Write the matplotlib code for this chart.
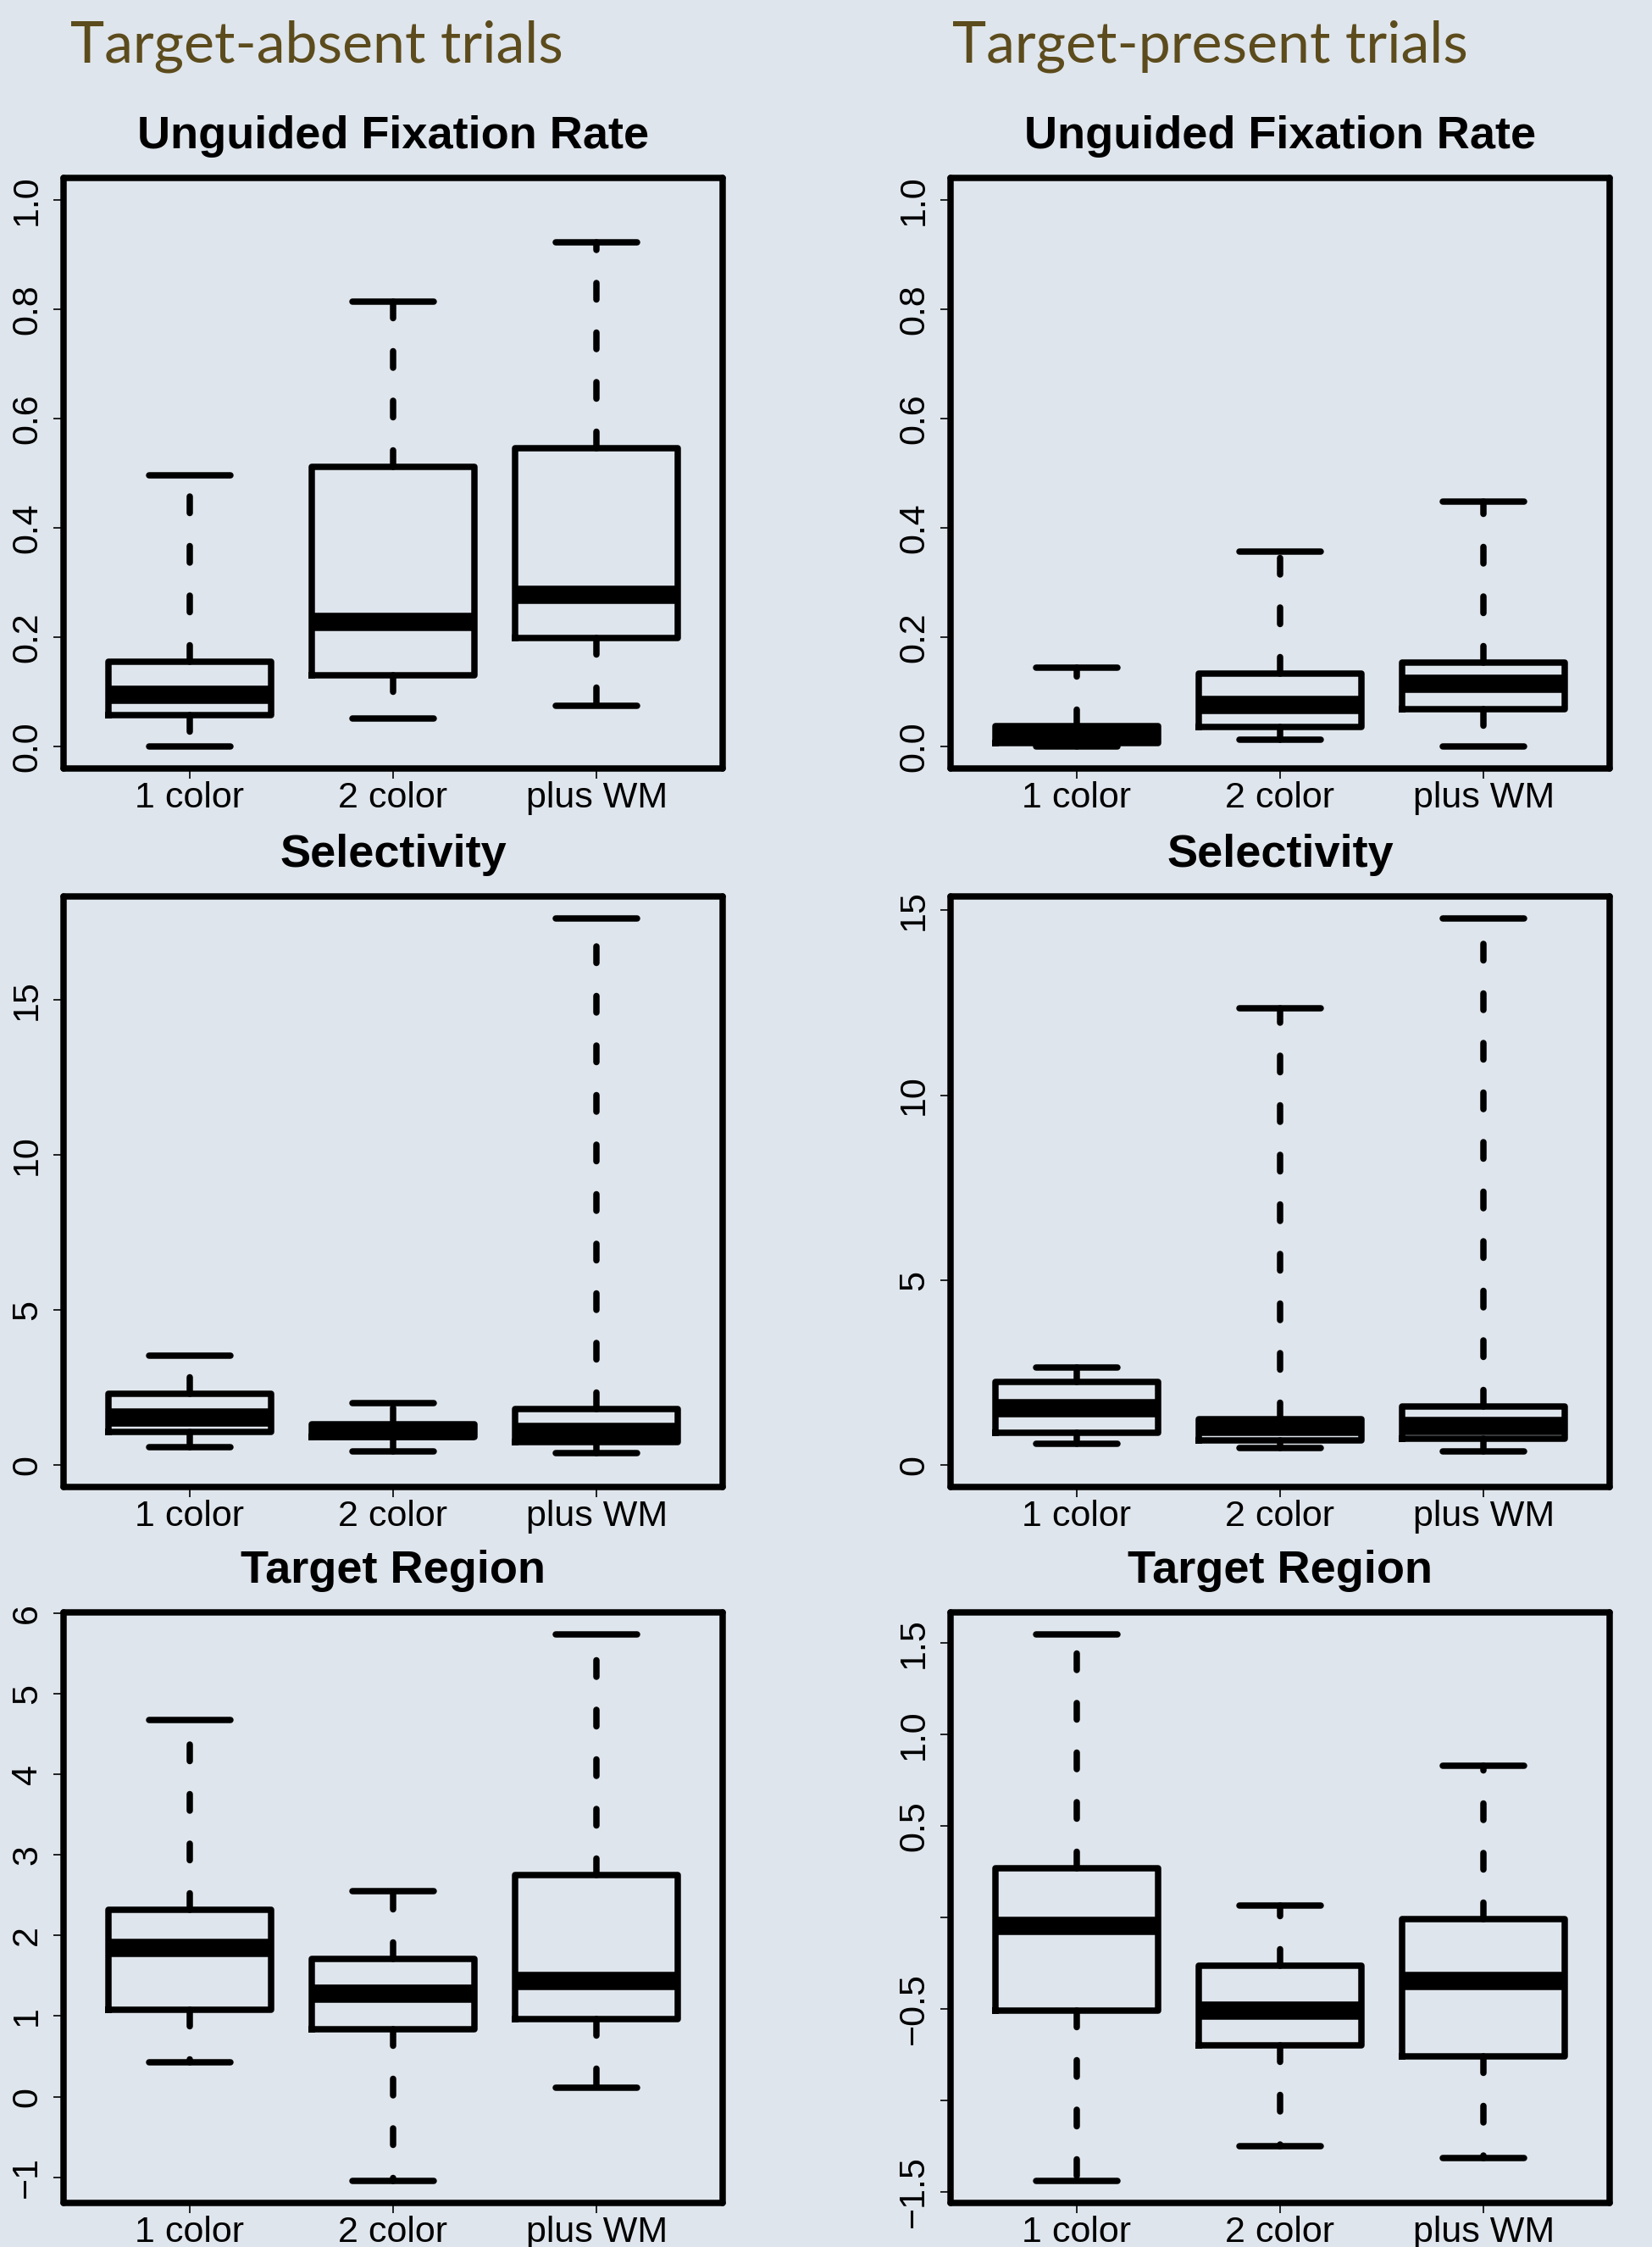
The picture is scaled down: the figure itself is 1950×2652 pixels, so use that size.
import matplotlib
matplotlib.use("Agg")
import matplotlib.pyplot as plt
from matplotlib.ticker import FixedLocator, FixedFormatter

# ---------------------------------------------------------------------------
# Data: per condition [lower whisker, Q1, median, Q3, upper whisker]
# ---------------------------------------------------------------------------
categories = ["1 color", "2 color", "plus WM"]

absent_fixation_rate = [
    [0.000, 0.057, 0.095, 0.155, 0.496],
    [0.051, 0.131, 0.228, 0.511, 0.813],
    [0.074, 0.198, 0.278, 0.546, 0.922],
]
present_fixation_rate = [
    [0.000, 0.006, 0.020, 0.037, 0.144],
    [0.012, 0.036, 0.076, 0.134, 0.356],
    [0.000, 0.069, 0.115, 0.153, 0.448],
]
absent_selectivity = [
    [0.57, 1.07, 1.53, 2.30, 3.52],
    [0.45, 0.91, 1.11, 1.32, 1.99],
    [0.39, 0.73, 1.08, 1.80, 17.64],
]
present_selectivity = [
    [0.57, 0.88, 1.55, 2.24, 2.63],
    [0.47, 0.67, 1.03, 1.24, 12.34],
    [0.36, 0.71, 1.06, 1.59, 14.78],
]
absent_target_region = [
    [0.426, 1.077, 1.846, 2.322, 4.672],
    [-1.046, 0.834, 1.283, 1.712, 2.554],
    [0.116, 0.968, 1.440, 2.745, 5.736],
]
present_target_region = [
    [-1.441, -0.510, -0.046, 0.271, 1.548],
    [-1.250, -0.697, -0.510, -0.264, 0.066],
    [-1.316, -0.758, -0.348, -0.009, 0.829],
]

rate_ticks = [0.0, 0.2, 0.4, 0.6, 0.8, 1.0]
rate_tick_labels = ["0.0", "0.2", "0.4", "0.6", "0.8", "1.0"]
selectivity_ticks = [0, 5, 10, 15]
selectivity_tick_labels = ["0", "5", "10", "15"]
absent_region_ticks = [-1, 0, 1, 2, 3, 4, 5, 6]
absent_region_tick_labels = ["\u22121", "0", "1", "2", "3", "4", "5", "6"]
present_region_ticks = [-1.5, -1.0, -0.5, 0.0, 0.5, 1.0, 1.5]
present_region_tick_labels = ["\u22121.5", "", "\u22120.5", "", "0.5", "1.0", "1.5"]

column_titles = ["Target-absent trials", "Target-present trials"]
row_titles = ["Unguided Fixation Rate", "Selectivity", "Target Region"]

# ---------------------------------------------------------------------------
# Styling
# ---------------------------------------------------------------------------
BG = "#dfe5ec"
HEAD = "#5c4b1c"
LW = 5.4           # box / frame line width (pt)
MED_LW = 15.5      # median bar width (pt)

plt.rcParams["font.family"] = ["Liberation Sans", "DejaVu Sans"]

W, H = 1950, 2652
fig = plt.figure(figsize=(W / 100, H / 100), dpi=100, facecolor=BG)

col_x = [75, 1122]
ax_w = 778
row_y = [210, 1058, 1903]
ax_h = 697

panels = [
    [(absent_fixation_rate, (0.0, 1.0), rate_ticks, rate_tick_labels),
     (present_fixation_rate, (0.0, 1.0), rate_ticks, rate_tick_labels)],
    [(absent_selectivity, (0.0, None), selectivity_ticks, selectivity_tick_labels),
     (present_selectivity, (0.0, None), selectivity_ticks, selectivity_tick_labels)],
    [(absent_target_region, (None, None), absent_region_ticks, absent_region_tick_labels),
     (present_target_region, (None, None), present_region_ticks, present_region_tick_labels)],
]


def draw_panel(ax, summary, span, ticks, tick_labels, title):
    stats = []
    for label, (lo, q1, med, q3, hi) in zip(categories, summary):
        stats.append(dict(label=label, whislo=lo, q1=q1, med=med, q3=q3,
                          whishi=hi, fliers=[]))
    ax.bxp(stats, positions=[1, 2, 3], widths=0.8, capwidths=0.4,
           showfliers=False,
           boxprops=dict(color="black", linewidth=LW,
                         solid_joinstyle="round"),
           whiskerprops=dict(color="black", linewidth=LW,
                             linestyle=(0, (2.6, 5.2)),
                             dash_capstyle="round"),
           capprops=dict(color="black", linewidth=LW,
                         solid_capstyle="round"),
           medianprops=dict(color="black", linewidth=MED_LW,
                            solid_capstyle="butt"))

    # y range padded by 4% on each side
    lows = [row[0] for row in summary]
    highs = [row[4] for row in summary]
    lo = span[0] if span[0] is not None else min(lows)
    hi = span[1] if span[1] is not None else max(highs)
    if span[0] is not None:
        lo = min(lo, min(lows))
    pad = 0.04 * (hi - lo)
    ax.set_ylim(lo - pad, hi + pad)
    ax.set_xlim(0.5 - 0.12, 3.5 + 0.12)

    ax.set_facecolor(BG)
    for sp in ax.spines.values():
        sp.set_linewidth(LW)
        sp.set_color("black")
        sp.set_capstyle("round")

    ax.xaxis.set_major_locator(FixedLocator([1, 2, 3]))
    ax.xaxis.set_major_formatter(FixedFormatter(categories))
    ax.yaxis.set_major_locator(FixedLocator(ticks))
    ax.yaxis.set_major_formatter(FixedFormatter(tick_labels))
    ax.tick_params(axis="both", direction="out", length=8.6, width=1.2,
                   labelsize=31, color="black")
    ax.tick_params(axis="x", pad=2)
    ax.tick_params(axis="y", pad=8)
    for lab in ax.get_yticklabels():
        lab.set_rotation(90)
        lab.set_va("center")
        lab.set_ha("right")

    ax.set_title(title, fontsize=39, fontweight="bold", pad=25)


for r in range(3):
    for c in range(2):
        summary, span, ticks, tick_labels = panels[r][c]
        ax = fig.add_axes([col_x[c] / W, 1 - (row_y[r] + ax_h) / H,
                           ax_w / W, ax_h / H])
        draw_panel(ax, summary, span, ticks, tick_labels, row_titles[r])

head_x = [83, 1124]
for c in range(2):
    fig.text(head_x[c] / W, 1 - 73 / H, column_titles[c], fontsize=49,
             family=["Lato", "DejaVu Sans"], color=HEAD,
             ha="left", va="baseline")

fig.savefig("out.png", dpi=100, facecolor=BG)
